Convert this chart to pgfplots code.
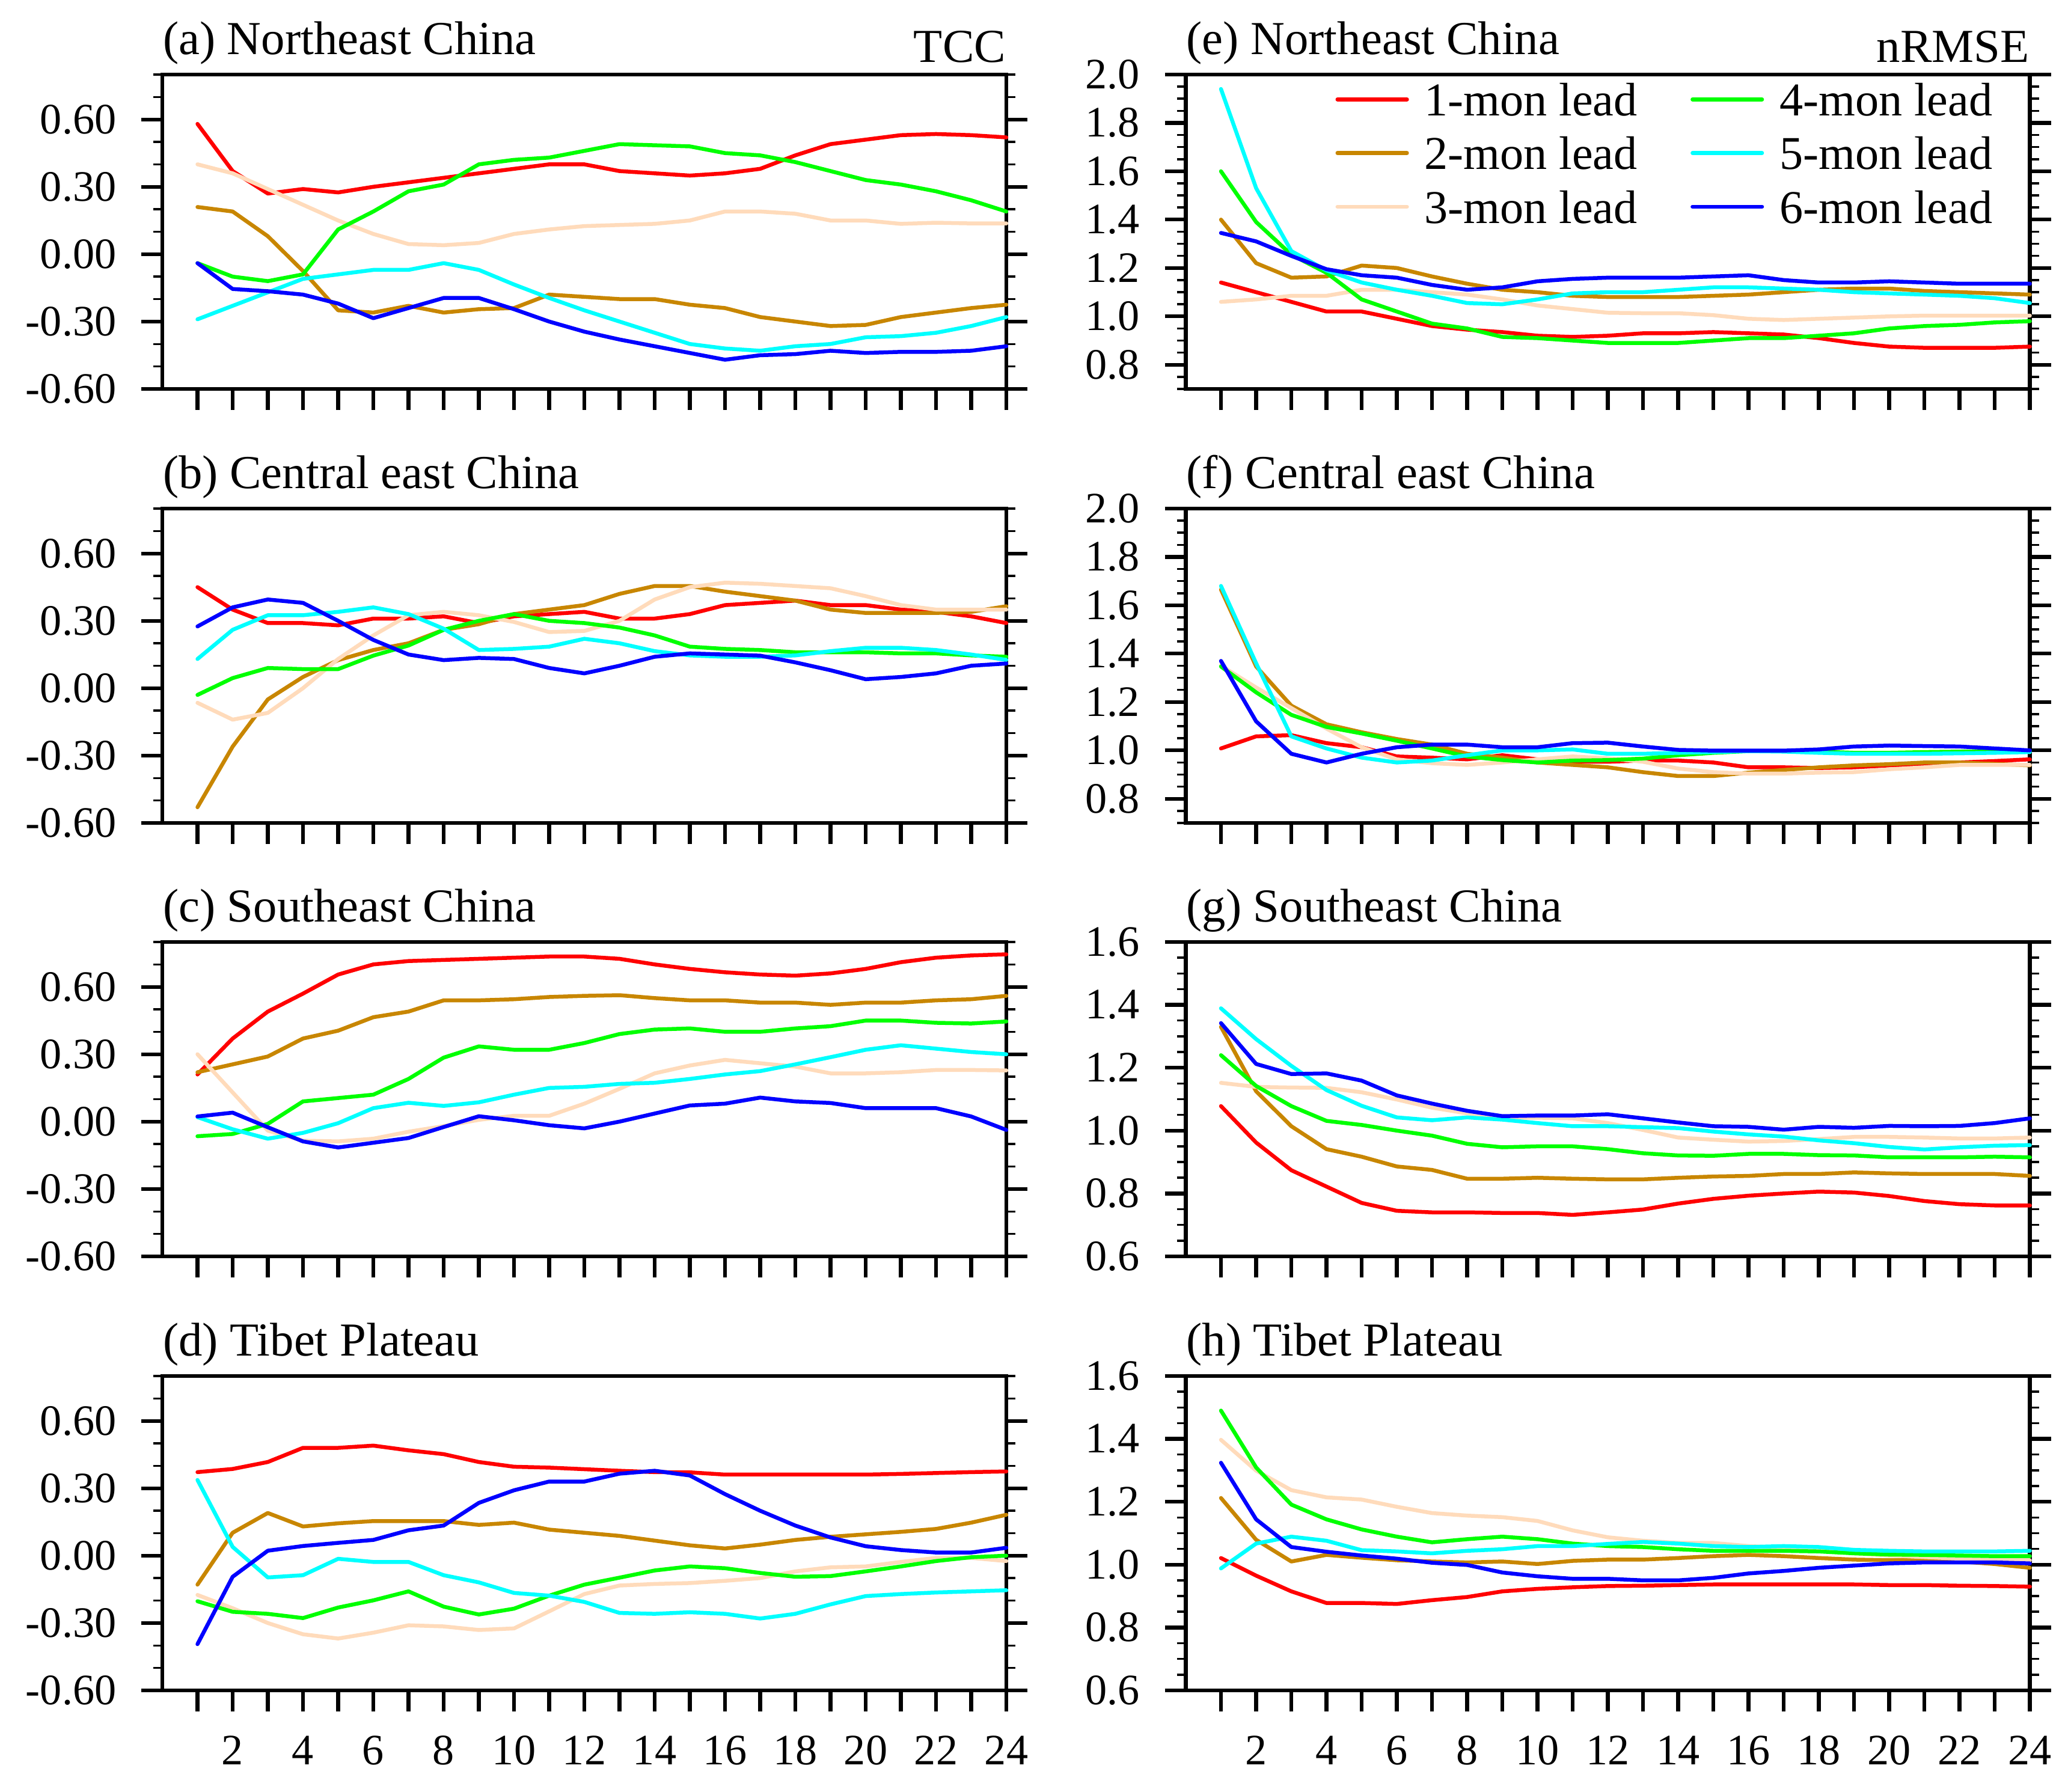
\documentclass[border=0pt]{standalone}
\usepackage{fontspec}
\setmainfont{Liberation Serif}
\usepackage{pgfplots}
\usepackage{pgfplotstable}
\pgfplotsset{compat=1.18}

\definecolor{c1}{RGB}{255,0,0}
\definecolor{c2}{RGB}{200,134,0}
\definecolor{c3}{RGB}{255,219,187}
\definecolor{c4}{RGB}{0,255,0}
\definecolor{c5}{RGB}{0,255,255}
\definecolor{c6}{RGB}{0,0,255}

\pgfplotstableread{
m L1 L2 L3 L4 L5 L6
1 0.58 0.21 0.40 -0.04 -0.29 -0.04
2 0.37 0.19 0.36 -0.10 -0.23 -0.155
3 0.27 0.08 0.29 -0.12 -0.17 -0.165
4 0.29 -0.075 0.22 -0.09 -0.11 -0.18
5 0.275 -0.25 0.15 0.11 -0.09 -0.22
6 0.30 -0.26 0.09 0.19 -0.07 -0.285
7 0.32 -0.23 0.045 0.28 -0.07 -0.24
8 0.34 -0.26 0.04 0.31 -0.04 -0.195
9 0.36 -0.245 0.05 0.40 -0.07 -0.195
10 0.38 -0.24 0.09 0.42 -0.135 -0.245
11 0.40 -0.18 0.11 0.43 -0.195 -0.30
12 0.40 -0.19 0.125 0.46 -0.25 -0.345
13 0.37 -0.20 0.13 0.49 -0.30 -0.38
14 0.36 -0.20 0.135 0.485 -0.35 -0.41
15 0.35 -0.225 0.15 0.48 -0.40 -0.44
16 0.36 -0.24 0.19 0.45 -0.42 -0.47
17 0.38 -0.28 0.19 0.44 -0.43 -0.45
18 0.44 -0.30 0.18 0.41 -0.41 -0.445
19 0.49 -0.32 0.15 0.37 -0.40 -0.43
20 0.51 -0.315 0.15 0.33 -0.37 -0.44
21 0.53 -0.28 0.135 0.31 -0.365 -0.435
22 0.535 -0.26 0.14 0.28 -0.35 -0.435
23 0.53 -0.24 0.137 0.24 -0.32 -0.43
24 0.52 -0.225 0.137 0.19 -0.28 -0.41
}\tA

\pgfplotstableread{
m L1 L2 L3 L4 L5 L6
1 0.45 -0.53 -0.065 -0.03 0.13 0.275
2 0.35 -0.26 -0.14 0.045 0.26 0.36
3 0.29 -0.05 -0.11 0.09 0.325 0.395
4 0.29 0.05 0.0 0.085 0.325 0.38
5 0.28 0.125 0.13 0.085 0.34 0.30
6 0.31 0.17 0.235 0.145 0.36 0.215
7 0.31 0.20 0.325 0.19 0.33 0.15
8 0.32 0.26 0.34 0.26 0.265 0.125
9 0.29 0.285 0.325 0.30 0.17 0.135
10 0.32 0.33 0.295 0.33 0.175 0.13
11 0.33 0.35 0.25 0.30 0.185 0.09
12 0.34 0.37 0.255 0.29 0.22 0.066
13 0.31 0.42 0.30 0.27 0.20 0.10
14 0.31 0.455 0.395 0.235 0.165 0.14
15 0.33 0.455 0.45 0.185 0.146 0.155
16 0.37 0.43 0.47 0.175 0.14 0.15
17 0.38 0.41 0.465 0.17 0.14 0.145
18 0.39 0.39 0.455 0.16 0.146 0.115
19 0.37 0.35 0.445 0.16 0.165 0.08
20 0.37 0.335 0.41 0.16 0.18 0.04
21 0.35 0.335 0.37 0.155 0.18 0.05
22 0.34 0.335 0.35 0.155 0.17 0.066
23 0.32 0.34 0.35 0.146 0.15 0.10
24 0.29 0.365 0.35 0.14 0.126 0.11
}\tB

\pgfplotstableread{
m L1 L2 L3 L4 L5 L6
1 0.21 0.22 0.30 -0.065 0.02 0.023
2 0.37 0.255 0.13 -0.055 -0.034 0.04
3 0.49 0.29 -0.04 -0.01 -0.076 -0.025
4 0.57 0.37 -0.085 0.09 -0.05 -0.088
5 0.655 0.405 -0.088 0.105 -0.007 -0.115
6 0.70 0.465 -0.076 0.12 0.06 -0.094
7 0.715 0.49 -0.045 0.19 0.084 -0.073
8 0.72 0.54 -0.02 0.285 0.07 -0.024
9 0.725 0.54 0.008 0.335 0.086 0.024
10 0.73 0.545 0.026 0.32 0.12 0.006
11 0.735 0.555 0.026 0.32 0.15 -0.016
12 0.735 0.56 0.08 0.35 0.155 -0.03
13 0.725 0.563 0.146 0.39 0.168 0.0
14 0.70 0.55 0.215 0.41 0.173 0.036
15 0.68 0.54 0.25 0.415 0.19 0.072
16 0.665 0.54 0.275 0.40 0.21 0.08
17 0.655 0.53 0.26 0.40 0.225 0.107
18 0.65 0.53 0.245 0.415 0.255 0.09
19 0.66 0.52 0.215 0.425 0.287 0.083
20 0.68 0.53 0.215 0.45 0.32 0.06
21 0.71 0.53 0.22 0.45 0.34 0.06
22 0.73 0.54 0.23 0.44 0.325 0.06
23 0.74 0.545 0.23 0.437 0.31 0.023
24 0.745 0.56 0.228 0.446 0.30 -0.037
}\tC

\pgfplotstableread{
m L1 L2 L3 L4 L5 L6
1 0.372 -0.129 -0.175 -0.203 0.337 -0.394
2 0.386 0.102 -0.234 -0.25 0.039 -0.094
3 0.417 0.19 -0.30 -0.259 -0.097 0.022
4 0.48 0.13 -0.35 -0.278 -0.087 0.043
5 0.48 0.144 -0.369 -0.231 -0.014 0.057
6 0.49 0.154 -0.343 -0.199 -0.028 0.07
7 0.469 0.154 -0.31 -0.159 -0.028 0.113
8 0.452 0.154 -0.315 -0.227 -0.087 0.134
9 0.417 0.137 -0.331 -0.262 -0.119 0.235
10 0.396 0.147 -0.324 -0.236 -0.166 0.291
11 0.392 0.116 -0.248 -0.178 -0.178 0.33
12 0.385 0.102 -0.171 -0.129 -0.206 0.33
13 0.378 0.088 -0.133 -0.098 -0.255 0.365
14 0.372 0.067 -0.126 -0.066 -0.259 0.378
15 0.371 0.046 -0.122 -0.048 -0.252 0.357
16 0.361 0.032 -0.112 -0.056 -0.259 0.274
17 0.361 0.049 -0.10 -0.077 -0.28 0.20
18 0.361 0.07 -0.07 -0.094 -0.259 0.134
19 0.361 0.084 -0.052 -0.091 -0.217 0.081
20 0.361 0.095 -0.048 -0.07 -0.18 0.042
21 0.364 0.106 -0.028 -0.048 -0.171 0.025
22 0.368 0.119 -0.01 -0.024 -0.164 0.014
23 0.372 0.147 -0.01 -0.007 -0.159 0.014
24 0.375 0.182 -0.024 0.0 -0.154 0.035
}\tD

\pgfplotstableread{
m L1 L2 L3 L4 L5 L6
1 1.14 1.40 1.06 1.60 1.94 1.345
2 1.10 1.22 1.07 1.39 1.53 1.31
3 1.06 1.16 1.085 1.255 1.27 1.25
4 1.02 1.165 1.085 1.18 1.19 1.195
5 1.02 1.21 1.11 1.07 1.14 1.17
6 0.99 1.20 1.11 1.02 1.11 1.16
7 0.96 1.165 1.10 0.97 1.085 1.13
8 0.945 1.135 1.09 0.95 1.055 1.11
9 0.935 1.11 1.07 0.915 1.05 1.12
10 0.92 1.10 1.045 0.91 1.07 1.145
11 0.915 1.085 1.03 0.90 1.095 1.155
12 0.92 1.08 1.015 0.89 1.10 1.16
13 0.93 1.08 1.013 0.89 1.10 1.16
14 0.93 1.08 1.013 0.89 1.11 1.16
15 0.935 1.085 1.005 0.90 1.12 1.165
16 0.93 1.09 0.99 0.91 1.12 1.17
17 0.925 1.10 0.985 0.91 1.115 1.15
18 0.91 1.11 0.99 0.92 1.11 1.14
19 0.89 1.115 0.995 0.93 1.10 1.14
20 0.875 1.115 1.0 0.95 1.095 1.145
21 0.87 1.105 1.003 0.96 1.09 1.14
22 0.87 1.10 1.003 0.965 1.085 1.135
23 0.87 1.095 1.003 0.975 1.075 1.135
24 0.875 1.09 1.003 0.98 1.055 1.135
}\tE

\pgfplotstableread{
m L1 L2 L3 L4 L5 L6
1 1.008 1.665 1.35 1.347 1.68 1.37
2 1.058 1.347 1.26 1.24 1.36 1.12
3 1.063 1.185 1.175 1.147 1.058 0.986
4 1.03 1.108 1.09 1.097 1.008 0.95
5 1.013 1.075 1.013 1.07 0.97 0.986
6 0.975 1.047 0.963 1.04 0.95 1.013
7 0.97 1.024 0.947 1.008 0.958 1.024
8 0.963 0.986 0.94 0.975 0.98 1.024
9 0.98 0.97 0.95 0.96 1.0 1.013
10 0.963 0.95 0.963 0.95 1.0 1.013
11 0.953 0.94 0.975 0.958 1.004 1.03
12 0.953 0.93 0.967 0.96 0.986 1.032
13 0.958 0.91 0.953 0.966 0.986 1.016
14 0.958 0.894 0.925 0.98 0.99 1.002
15 0.95 0.894 0.91 0.99 0.993 0.999
16 0.93 0.908 0.904 0.997 0.997 0.999
17 0.93 0.919 0.904 0.997 0.995 0.999
18 0.927 0.93 0.908 0.995 0.99 1.004
19 0.93 0.938 0.91 0.99 0.986 1.016
20 0.938 0.943 0.922 0.99 0.986 1.02
21 0.943 0.95 0.93 0.993 0.986 1.018
22 0.95 0.95 0.94 0.995 0.988 1.016
23 0.956 0.944 0.94 0.997 0.99 1.008
24 0.963 0.938 0.94 0.999 0.993 1.0
}\tF

\pgfplotstableread{
m L1 L2 L3 L4 L5 L6
1 1.078 1.33 1.152 1.24 1.389 1.342
2 0.962 1.125 1.139 1.142 1.291 1.212
3 0.874 1.014 1.137 1.078 1.206 1.18
4 0.822 0.941 1.136 1.031 1.129 1.182
5 0.770 0.917 1.122 1.018 1.079 1.159
6 0.745 0.886 1.099 1.0 1.042 1.112
7 0.74 0.875 1.073 0.984 1.033 1.086
8 0.74 0.847 1.055 0.958 1.042 1.063
9 0.738 0.847 1.041 0.947 1.035 1.046
10 0.738 0.85 1.041 0.95 1.024 1.048
11 0.732 0.847 1.039 0.95 1.014 1.048
12 0.74 0.845 1.024 0.941 1.014 1.052
13 0.749 0.845 1.002 0.928 1.011 1.039
14 0.768 0.85 0.978 0.921 1.008 1.026
15 0.783 0.854 0.971 0.92 0.997 1.014
16 0.793 0.856 0.965 0.926 0.988 1.012
17 0.80 0.862 0.967 0.926 0.981 1.003
18 0.806 0.862 0.973 0.922 0.969 1.012
19 0.803 0.867 0.98 0.921 0.96 1.009
20 0.792 0.864 0.98 0.915 0.948 1.015
21 0.776 0.862 0.978 0.915 0.94 1.014
22 0.766 0.862 0.975 0.915 0.947 1.015
23 0.762 0.862 0.975 0.917 0.952 1.024
24 0.762 0.856 0.978 0.915 0.954 1.039
}\tG

\pgfplotstableread{
m L1 L2 L3 L4 L5 L6
1 1.021 1.212 1.397 1.49 0.988 1.324
2 0.965 1.079 1.299 1.309 1.067 1.144
3 0.915 1.01 1.237 1.191 1.089 1.056
4 0.878 1.031 1.214 1.144 1.076 1.041
5 0.878 1.022 1.207 1.112 1.046 1.029
6 0.875 1.014 1.184 1.089 1.042 1.019
7 0.887 1.01 1.164 1.071 1.036 1.006
8 0.897 1.007 1.156 1.081 1.044 0.999
9 0.915 1.01 1.151 1.089 1.049 0.975
10 0.923 1.002 1.139 1.081 1.059 0.963
11 0.928 1.012 1.109 1.067 1.059 0.955
12 0.932 1.016 1.087 1.059 1.066 0.955
13 0.933 1.016 1.076 1.056 1.072 0.95
14 0.935 1.021 1.069 1.049 1.067 0.95
15 0.937 1.027 1.069 1.044 1.059 0.958
16 0.937 1.031 1.059 1.044 1.056 0.972
17 0.937 1.027 1.054 1.044 1.059 0.98
18 0.937 1.021 1.047 1.042 1.056 0.99
19 0.937 1.016 1.036 1.036 1.047 0.997
20 0.935 1.014 1.029 1.032 1.044 1.004
21 0.935 1.014 1.024 1.031 1.042 1.007
22 0.933 1.01 1.019 1.029 1.042 1.007
23 0.932 1.002 1.014 1.027 1.042 1.007
24 0.93 0.99 1.014 1.027 1.044 1.004
}\tH

\pgfplotsset{
  panel/.style={
    scale only axis, width=280.8bp, height=104.6bp,
    xmin=0, xmax=24, xtick={1,...,24}, xticklabels={},
    tick align=outside, xtick pos=left, ytick pos=both,
    major tick length=7bp, minor tick length=3bp,
    axis line style={line width=1.3bp},
    major tick style={line width=1.25bp, black},
    minor tick style={line width=0.7bp, black},
    tick label style={font=\fontsize{14.5}{14.5}\selectfont},
    yticklabel style={xshift=-4.8bp},
    xticklabel style={yshift=-4.6bp},
    clip=false,
  },
  tcc/.style={panel, ymin=-0.6, ymax=0.8,
    ytick={-0.6,-0.3,0,0.3,0.6},
    yticklabels={\textrm{-0.60},\textrm{-0.30},\textrm{0.00},\textrm{0.30},\textrm{0.60}},
    minor ytick={-0.5,-0.4,-0.2,-0.1,0.1,0.2,0.4,0.5,0.7,0.8}},
  rmsea/.style={panel, ymin=0.7, ymax=2.0,
    ytick={0.8,1.0,1.2,1.4,1.6,1.8,2.0},
    yticklabels={\textrm{0.8},\textrm{1.0},\textrm{1.2},\textrm{1.4},\textrm{1.6},\textrm{1.8},\textrm{2.0}},
    minor ytick={0.7,0.75,0.85,0.9,0.95,1.05,1.1,1.15,1.25,1.3,1.35,1.45,1.5,1.55,1.65,1.7,1.75,1.85,1.9,1.95}},
  rmseb/.style={panel, ymin=0.6, ymax=1.6,
    ytick={0.6,0.8,1.0,1.2,1.4,1.6},
    yticklabels={\textrm{0.6},\textrm{0.8},\textrm{1.0},\textrm{1.2},\textrm{1.4},\textrm{1.6}},
    minor ytick={0.65,0.7,0.75,0.85,0.9,0.95,1.05,1.1,1.15,1.25,1.3,1.35,1.45,1.5,1.55}},
  bottomrow/.style={xticklabels={{},\textrm{2},{},\textrm{4},{},\textrm{6},{},\textrm{8},{},\textrm{10},{},\textrm{12},{},\textrm{14},{},\textrm{16},{},\textrm{18},{},\textrm{20},{},\textrm{22},{},\textrm{24}}},
  sl/.style={line width=1.3bp, line join=round, line cap=round, forget plot},
}
\tikzset{
  ttl/.style={anchor=base west, inner sep=0pt, yshift=6.7bp, font=\fontsize{15.8}{15.8}\selectfont},
  ttr/.style={anchor=base east, inner sep=0pt, yshift=4.0bp, font=\fontsize{15.8}{15.8}\selectfont},
}
\newcommand{\sixlines}[1]{%
  \addplot[sl, c1] table[x=m, y=L1] {#1};
  \addplot[sl, c2] table[x=m, y=L2] {#1};
  \addplot[sl, c3] table[x=m, y=L3] {#1};
  \addplot[sl, c4] table[x=m, y=L4] {#1};
  \addplot[sl, c5] table[x=m, y=L5] {#1};
  \addplot[sl, c6] table[x=m, y=L6] {#1};
}

\begin{document}
\begin{tikzpicture}
\useasboundingbox (0,0) rectangle (687bp,596.2bp);

\begin{axis}[tcc, at={(54bp,466.8bp)}, anchor=south west]
\sixlines{\tA}
\node[ttl] at (rel axis cs:0,1) {(a) Northeast China};
\node[ttr] at (rel axis cs:1,1) {TCC};
\end{axis}

\begin{axis}[tcc, at={(54bp,322.4bp)}, anchor=south west]
\sixlines{\tB}
\node[ttl] at (rel axis cs:0,1) {(b) Central east China};
\end{axis}

\begin{axis}[tcc, at={(54bp,178.2bp)}, anchor=south west]
\sixlines{\tC}
\node[ttl] at (rel axis cs:0,1) {(c) Southeast China};
\end{axis}

\begin{axis}[tcc, bottomrow, at={(54bp,33.8bp)}, anchor=south west]
\sixlines{\tD}
\node[ttl] at (rel axis cs:0,1) {(d) Tibet Plateau};
\end{axis}

\begin{axis}[rmsea, at={(394.5bp,466.8bp)}, anchor=south west,
  legend columns=2, legend cell align=left,
  legend image code/.code={\draw[#1, line width=1.33bp, line cap=round] (0bp,0bp) -- (23.1bp,0bp);},
  legend style={draw=none, fill=none, at={(rel axis cs:0,1)}, anchor=north west,
    xshift=49.6bp, yshift=-2.65bp, inner sep=0pt,
    nodes={inner sep=0pt, text depth=0pt},
    row sep=7bp,
    font=\fontsize{15.7}{15.7}\selectfont,
    /tikz/every odd column/.append style={column sep=5.2bp},
    /tikz/every even column/.append style={column sep=17.7bp}}]
\sixlines{\tE}
\addlegendimage{c1}\addlegendentry{1-mon lead}
\addlegendimage{c4}\addlegendentry{4-mon lead}
\addlegendimage{c2}\addlegendentry{2-mon lead}
\addlegendimage{c5}\addlegendentry{5-mon lead}
\addlegendimage{c3}\addlegendentry{3-mon lead}
\addlegendimage{c6}\addlegendentry{6-mon lead}
\node[ttl] at (rel axis cs:0,1) {(e) Northeast China};
\node[ttr] at (rel axis cs:1,1) {nRMSE};
\end{axis}

\begin{axis}[rmsea, at={(394.5bp,322.4bp)}, anchor=south west]
\sixlines{\tF}
\node[ttl] at (rel axis cs:0,1) {(f) Central east China};
\end{axis}

\begin{axis}[rmseb, at={(394.5bp,178.2bp)}, anchor=south west]
\sixlines{\tG}
\node[ttl] at (rel axis cs:0,1) {(g) Southeast China};
\end{axis}

\begin{axis}[rmseb, bottomrow, at={(394.5bp,33.8bp)}, anchor=south west]
\sixlines{\tH}
\node[ttl] at (rel axis cs:0,1) {(h) Tibet Plateau};
\end{axis}

\end{tikzpicture}
\end{document}
